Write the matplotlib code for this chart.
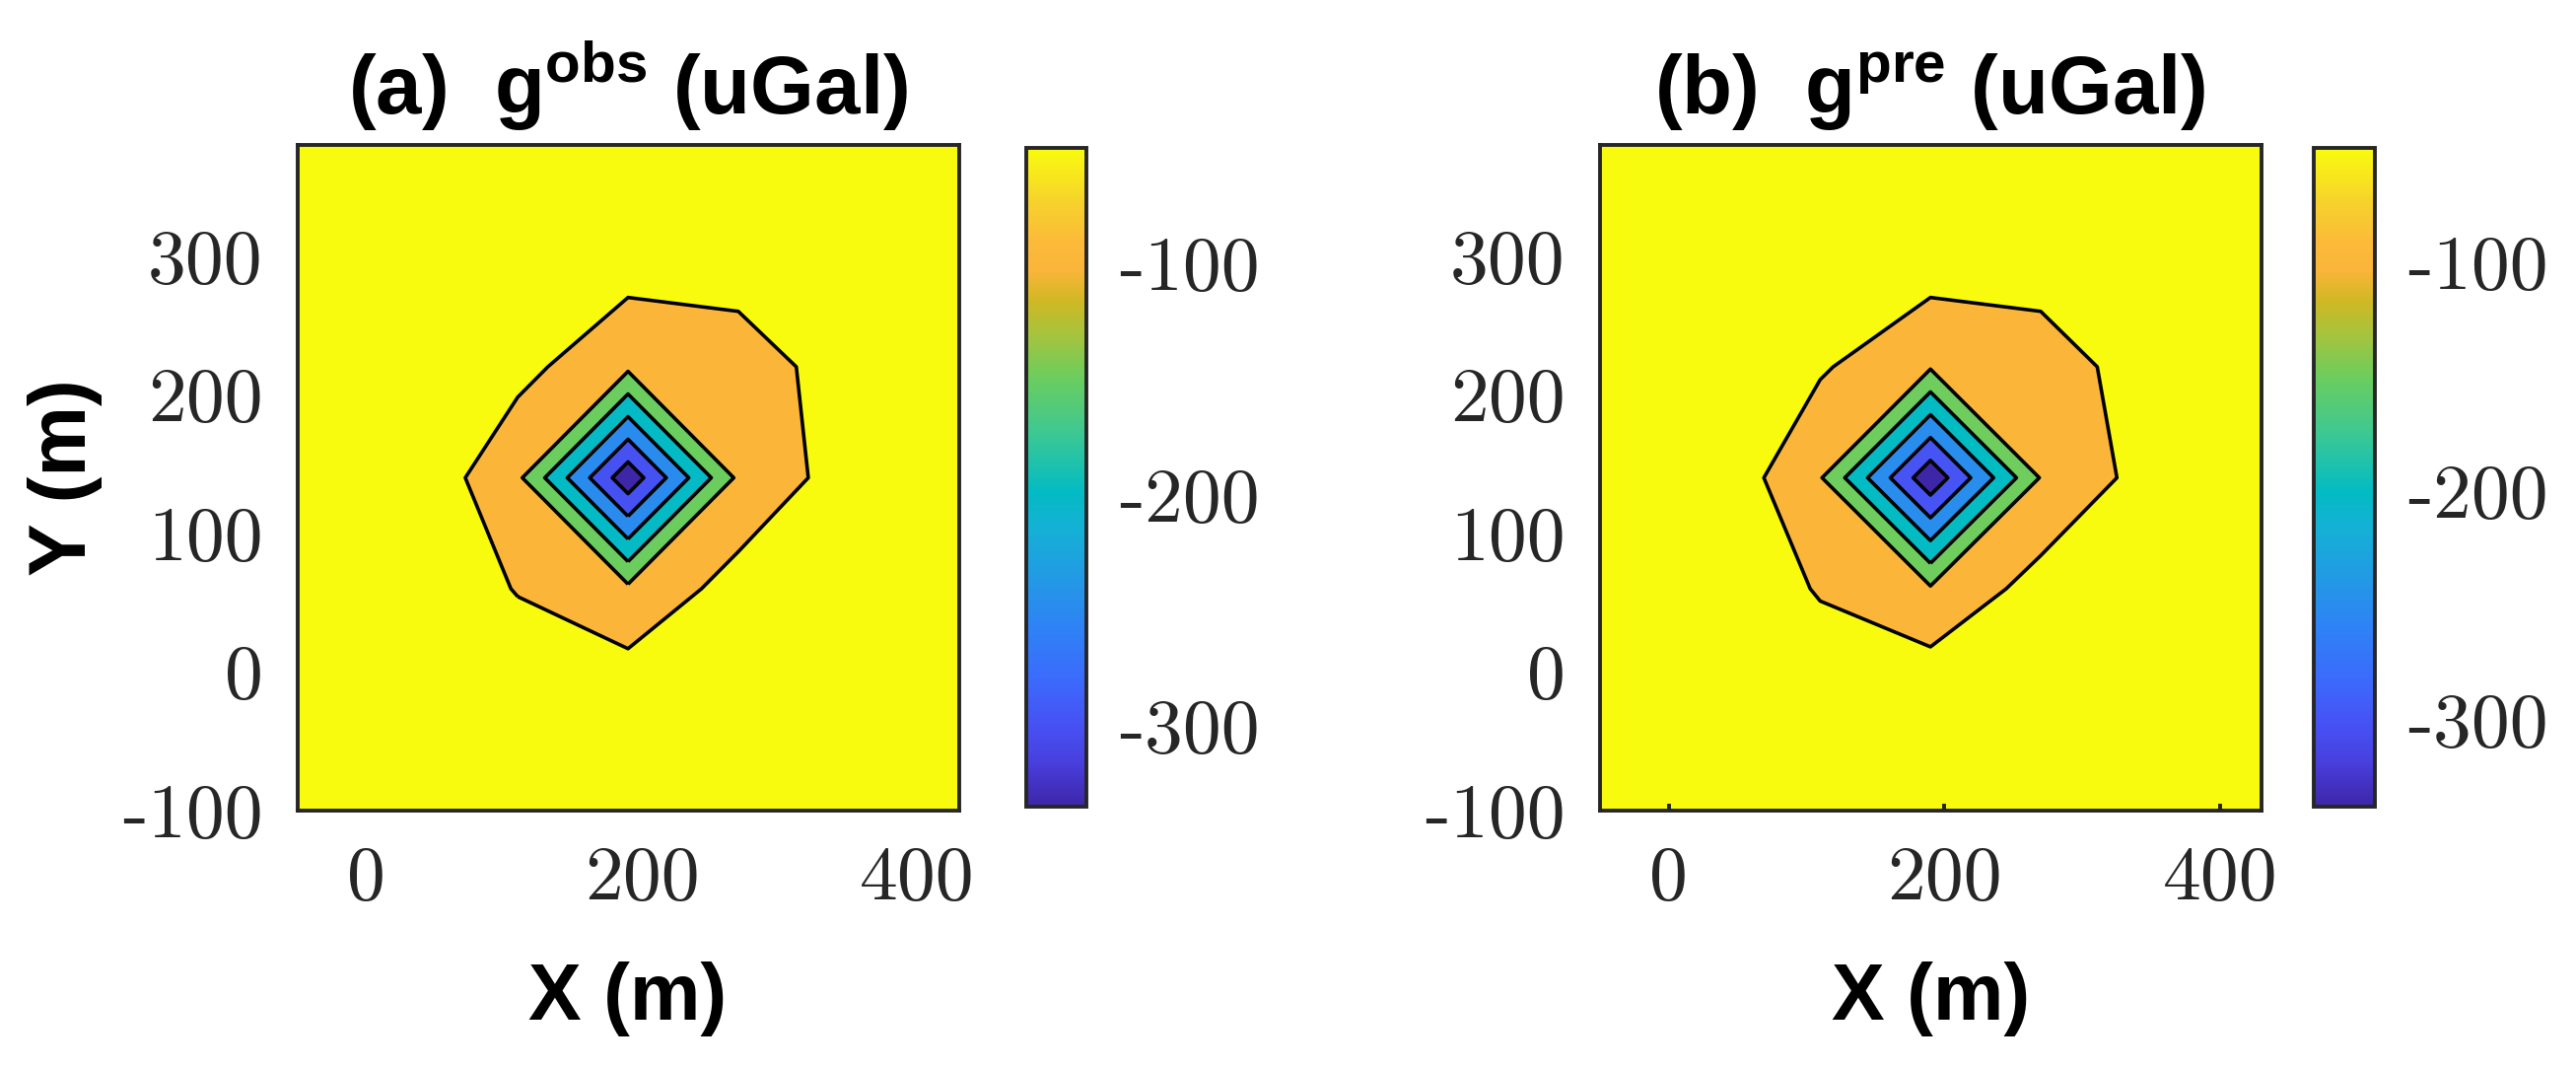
import matplotlib
matplotlib.use("Agg")
import numpy as np
import matplotlib.pyplot as plt
from matplotlib.colors import LinearSegmentedColormap, Normalize
from matplotlib.cm import ScalarMappable

plt.rcParams['axes.unicode_minus'] = False
plt.rcParams['mathtext.fontset'] = 'custom'
plt.rcParams['mathtext.bf'] = 'Liberation Sans:bold'
plt.rcParams['mathtext.rm'] = 'Liberation Sans:bold'

# survey grid (m)
x = [-50, 30, 110, 190, 270, 350, 430]
y = [-100, -20, 60, 140, 220, 300, 380]

# gravity (uGal), rows follow y, columns follow x
g_obs = [
    [-8, -10, -12, -14, -12, -10, -8],
    [-10, -14, -24, -16, -12, -12, -10],
    [-10, -20, -52, -90, -30, -18, -12],
    [-8, -6, -90, -335, -90, -27, -12],
    [-10, -18, -35, -90, -70, -32, -14],
    [-10, -14, -15, -26, -30, -20, -12],
    [-8, -10, -12, -14, -12, -10, -8],
]
g_pre = [
    [-8, -10, -12, -12, -12, -10, -8],
    [-10, -14, -26, -10, -12, -12, -10],
    [-10, -20, -53, -94, -30, -18, -12],
    [-8, -6, -96, -338, -97, -29, -12],
    [-10, -18, -44, -95, -70, -31, -14],
    [-10, -14, -15, -23, -30, -20, -12],
    [-8, -10, -12, -14, -12, -10, -8],
]

levels = [-300, -250, -200, -150, -100, -50]
xticks = [0, 200, 400]
yticks = [-100, 0, 100, 200, 300]
cbticks = [-300, -200, -100]
titles = [r'(a)  $\mathbf{g}^{\mathbf{obs}}$ (uGal)',
          r'(b)  $\mathbf{g}^{\mathbf{pre}}$ (uGal)']

# parula-like map
parula = LinearSegmentedColormap.from_list('parula', [
    (0.000, '#3e26a8'), (0.069, '#4840e0'), (0.128, '#4653f4'),
    (0.200, '#3a6dfc'), (0.274, '#2e83f5'), (0.347, '#229ae4'),
    (0.420, '#15b0d6'), (0.478, '#03bbc3'), (0.566, '#3cc893'),
    (0.653, '#6ccd5d'), (0.720, '#a8c33c'), (0.770, '#d1b823'),
    (0.815, '#fab53a'), (0.855, '#fcb93a'), (0.920, '#f6d22c'),
    (1.000, '#f9fb0e')])

dark = '#262626'
fig = plt.figure(figsize=(13.065, 5.415), dpi=200)

ax_pos = [[0.1154, 0.2410, 0.2568, 0.6233], [0.6210, 0.2410, 0.2568, 0.6233]]
cax_pos = [[0.3984, 0.2447, 0.0234, 0.6168], [0.8982, 0.2447, 0.0237, 0.6168]]

X, Y = np.meshgrid(x, y)
for k, data in enumerate([g_obs, g_pre]):
    Z = np.array(data, dtype=float)
    ax = fig.add_axes(ax_pos[k])
    zmin, zmax = Z.min(), Z.max()
    norm = Normalize(zmin, levels[-1])
    lower = [zmin] + levels
    fills = [parula(norm(v)) for v in lower]
    ax.contourf(X, Y, Z, levels=[zmin - 1] + levels + [zmax + 1], colors=fills)
    ax.contour(X, Y, Z, levels=levels, colors='k', linewidths=1.3, linestyles='solid')
    ax.set_xlim(x[0], x[-1])
    ax.set_ylim(y[0], y[-1])

    ax.set_xticks(xticks)
    ax.set_xticklabels([str(v) for v in xticks], fontfamily='cmr10', fontsize=28, color=dark)
    ax.set_yticks(yticks)
    ax.set_yticklabels([str(v) for v in yticks], fontfamily='cmr10', fontsize=28, color=dark)
    ax.tick_params(axis='x', direction='in', length=2.5 if k == 1 else 0, width=1.4,
                   color=dark, pad=12.8)
    ax.tick_params(axis='y', direction='in', length=0, pad=12.6)
    for s in ax.spines.values():
        s.set_linewidth(1.4)
        s.set_color(dark)

    ax.set_title(titles[k], fontfamily='Liberation Sans', fontweight='bold',
                 fontsize=30, pad=11.3, math_fontfamily='custom')
    ax.set_xlabel('X (m)', fontfamily='Liberation Sans', fontweight='bold', fontsize=29)
    ax.xaxis.set_label_coords(0.5, -0.2267)
    if k == 0:
        ax.set_ylabel('Y (m)', fontfamily='Liberation Sans', fontweight='bold', fontsize=29)
        ax.yaxis.set_label_coords(-0.295, 0.5)

    cax = fig.add_axes(cax_pos[k])
    cb = fig.colorbar(ScalarMappable(norm=norm, cmap=parula), cax=cax, ticks=cbticks)
    cb.ax.set_yticklabels([str(v) for v in cbticks], fontfamily='cmr10', fontsize=28, color=dark)
    cb.ax.tick_params(length=0, pad=11.9)
    cb.outline.set_linewidth(1.4)
    cb.outline.set_edgecolor(dark)

fig.savefig('out.png', dpi=200)
